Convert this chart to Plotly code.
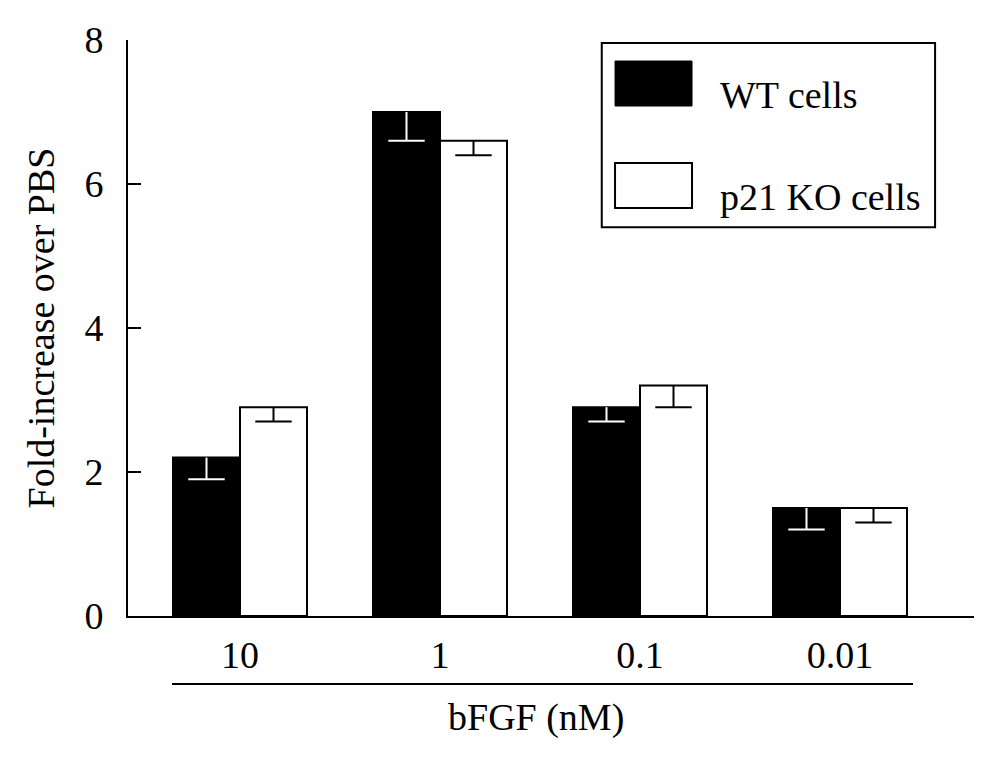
import numpy as np
import plotly.graph_objects as go

categories = ["10", "1", "0.1", "0.01"]
wt_values = [2.2, 7.0, 2.9, 1.5]
wt_err = [0.3, 0.4, 0.2, 0.3]
ko_values = [2.9, 6.6, 3.2, 1.5]
ko_err = [0.2, 0.2, 0.3, 0.2]
series_names = ["WT cells", "p21 KO cells"]
y_ticks = [0, 2, 4, 6, 8]

FONT = "Liberation Serif, Times New Roman, serif"
FS = 38
idx = np.arange(len(categories))
half = 0.335 / 2

fig = go.Figure()
fig.add_trace(go.Bar(x=idx, y=wt_values, name=series_names[0],
                     marker=dict(color="black", line=dict(color="black", width=2)),
                     showlegend=False))
fig.add_trace(go.Bar(x=idx, y=ko_values, name=series_names[1],
                     marker=dict(color="white", line=dict(color="black", width=2)),
                     showlegend=False))

# one-sided (downward) error bars: stem via error_y, cap via line marker
for vals, errs, off, col in [(wt_values, wt_err, -half, "white"),
                             (ko_values, ko_err, half, "black")]:
    lows = [v - e for v, e in zip(vals, errs)]
    fig.add_trace(go.Scatter(
        x=idx + off, y=lows, mode="markers", showlegend=False, hoverinfo="skip",
        marker=dict(symbol="line-ew", size=26, color=col,
                    line=dict(color=col, width=2)),
        error_y=dict(type="data", symmetric=False, array=errs,
                     arrayminus=[0] * len(errs), width=0, thickness=2, color=col)))

# manual legend (box, swatches, labels)
shapes = [
    dict(type="rect", xref="paper", yref="paper", x0=0.560, x1=0.954,
         y0=0.675, y1=0.995, line=dict(color="black", width=2), fillcolor="white",
         layer="below"),
    dict(type="rect", xref="paper", yref="paper", x0=0.5757, x1=0.6667,
         y0=0.8854, y1=0.9635, line=dict(color="black", width=1), fillcolor="black"),
    dict(type="rect", xref="paper", yref="paper", x0=0.5757, x1=0.6667,
         y0=0.7083, y1=0.7865, line=dict(color="black", width=2), fillcolor="white"),
    # underline beneath the category labels
    dict(type="line", xref="x", yref="paper", x0=-0.34, x1=3.365,
         y0=-0.118, y1=-0.118, line=dict(color="black", width=2)),
]
annotations = [
    dict(text=series_names[0], xref="paper", yref="paper", x=0.697, y=0.905,
         xanchor="left", yanchor="middle", showarrow=False,
         font=dict(family=FONT, size=FS, color="black")),
    dict(text=series_names[1], xref="paper", yref="paper", x=0.697, y=0.728,
         xanchor="left", yanchor="middle", showarrow=False,
         font=dict(family=FONT, size=FS, color="black")),
    dict(text="bFGF (nM)", xref="paper", yref="paper", x=0.482, y=-0.177,
         xanchor="center", yanchor="middle", showarrow=False,
         font=dict(family=FONT, size=FS, color="black")),
]

fig.update_layout(
    width=996, height=761,
    margin=dict(l=120, r=30, t=32, b=153),
    paper_bgcolor="white", plot_bgcolor="white",
    barmode="group", bargap=0.33, bargroupgap=0,
    font=dict(family=FONT, size=FS, color="black"),
    shapes=shapes, annotations=annotations,
    showlegend=False,
    xaxis=dict(range=[-0.56, 3.67], tickmode="array", tickvals=idx,
               ticktext=categories, showgrid=False, zeroline=False,
               showline=True, linecolor="black", linewidth=2, ticks="",
               ticklabelstandoff=4,
               tickfont=dict(family=FONT, size=FS, color="black")),
    yaxis=dict(range=[0, 8], tickvals=y_ticks, showgrid=False, zeroline=False,
               showline=True, linecolor="black", linewidth=2,
               ticks="inside", ticklen=13, tickwidth=2, tickcolor="black",
               ticklabelstandoff=15,
               tickfont=dict(family=FONT, size=FS, color="black"),
               title=dict(text="Fold-increase over PBS", standoff=18,
                          font=dict(family=FONT, size=FS, color="black"))),
)

fig.write_html("out.html")
